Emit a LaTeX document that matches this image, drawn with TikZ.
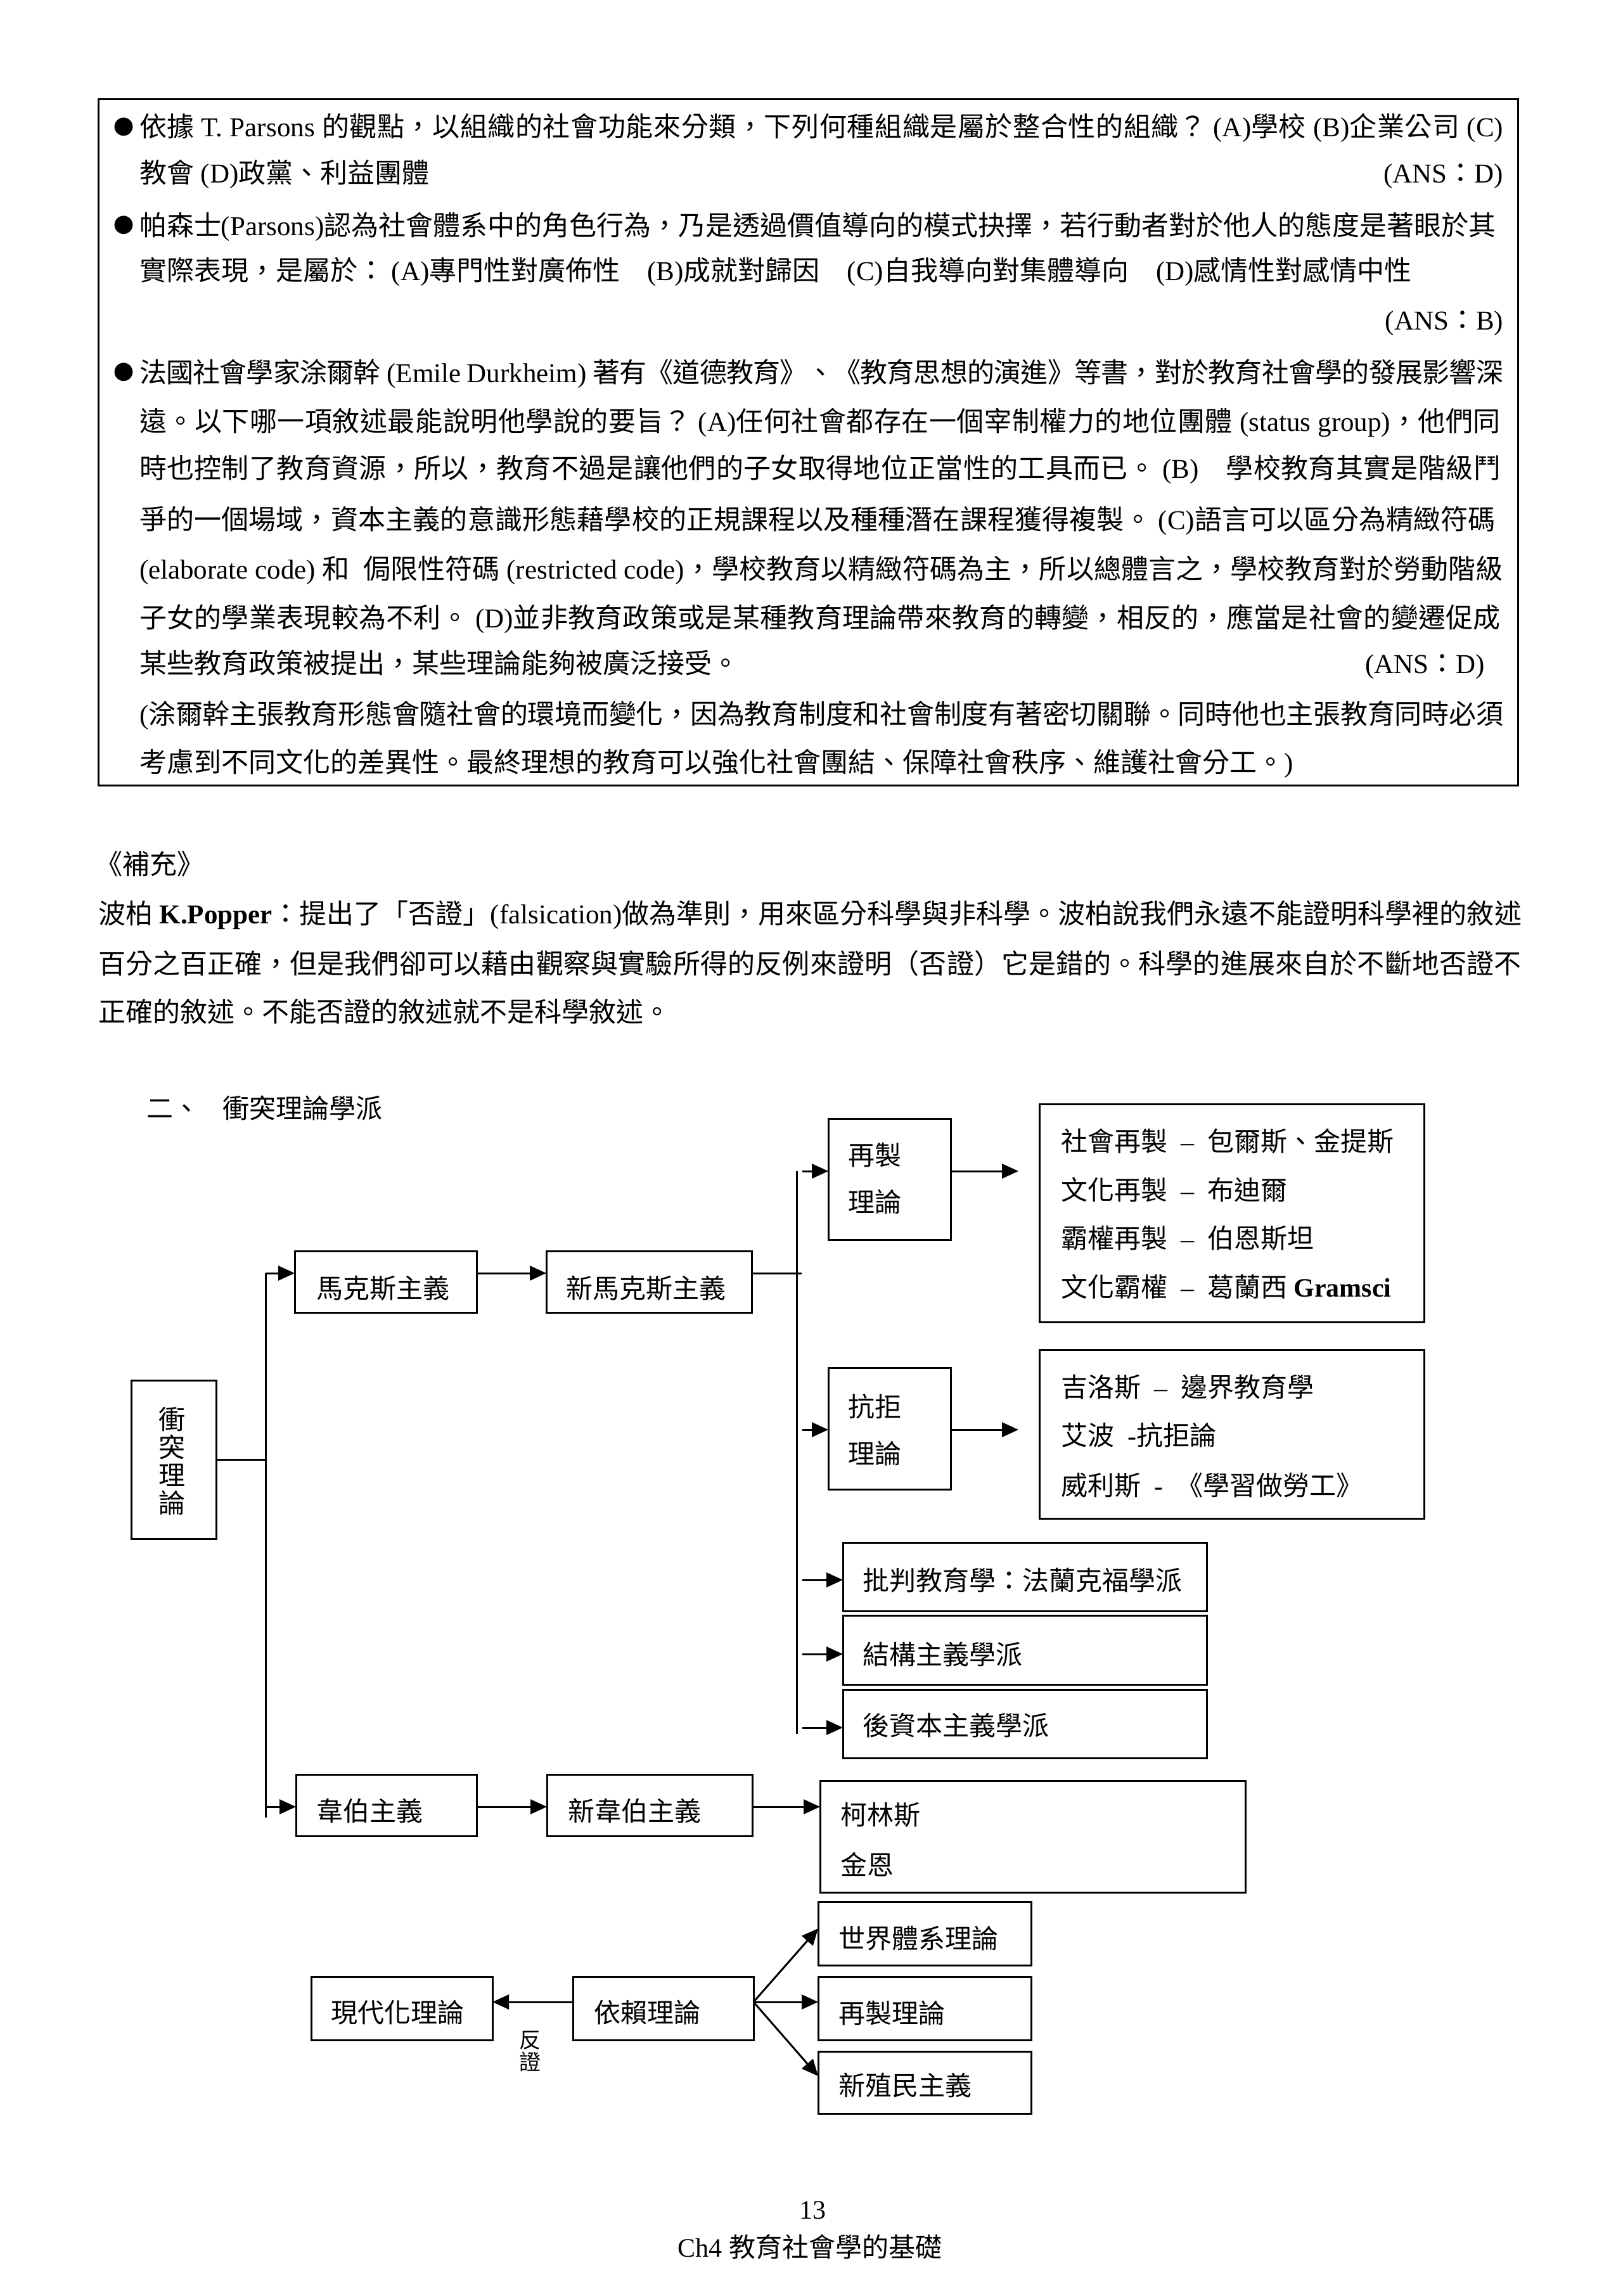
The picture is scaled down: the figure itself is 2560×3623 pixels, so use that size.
\documentclass[tikz,border=0pt]{standalone}
\usepackage{fontspec}
\setmainfont{Liberation Serif}
\newfontfamily\cjkf{Noto Sans CJK TC}
\usetikzlibrary{arrows.meta,fit}
\makeatletter
\newXeTeXintercharclass\CJKcl
\def\setcjkrange#1#2{\count@=#1\relax
  \loop\XeTeXcharclass\count@=\CJKcl\relax
  \ifnum\count@<#2\relax\advance\count@\@ne\repeat}
\setcjkrange{"2E80}{"9FFF}
\setcjkrange{"F900}{"FAFF}
\setcjkrange{"FE30}{"FE4F}
\setcjkrange{"FF00}{"FFEF}
\makeatother
\XeTeXinterchartoks 0 \CJKcl = {\cjkf}
\XeTeXinterchartoks 4095 \CJKcl = {\cjkf}
\XeTeXinterchartoks \CJKcl 0 = {\rmfamily}
\XeTeXinterchartoks \CJKcl 4095 = {\rmfamily}
\XeTeXinterchartoks \CJKcl \CJKcl = {\hskip0pt plus .15em minus .05em\relax}
\XeTeXinterchartokenstate=1
\newcommand\mainfs{\fontsize{43}{52}\selectfont}
\newcommand\dgfs{\fontsize{42}{50}\selectfont}
\newcommand\hsp{\hspace{21pt}}
\newcommand\jline[5]{\node[txt] (#1) at (#2,#3) {\hbox to #4pt{#5}};}
\begin{document}
\begin{tikzpicture}[x=1pt,y=-1pt,
  bx/.style={draw, line width=3pt, inner sep=0pt, outer sep=0pt},
  txt/.style={inner sep=0pt, outer sep=0pt, anchor=base west, font=\mainfs},
  dtxt/.style={inner sep=0pt, outer sep=0pt, anchor=base west, font=\dgfs},
  ln/.style={line width=3pt},
  arr/.style={line width=3pt, -{Triangle[length=26pt,width=23pt]}},
  bul/.style={inner sep=0pt, font={\fontsize{32}{32}\selectfont\cjkf}}]
\fill[white] (0,0) rectangle (2560,3623);
\useasboundingbox (0,0) rectangle (2560,3623);

% ---------- question frame ----------
\node[bx, fit={(155,157) (2395,1239)}] (frame) {};
\node[bul] (b1) at (195,200) {●};
\jline{l1}{220}{216}{2152}{依據 T. Parsons 的觀點，以組織的社會功能來分類，下列何種組織是屬於整合性的組織？ (A)學校 (B)企業公司 (C)}
\jline{l2}{220}{289}{2152}{教會 (D)政黨、利益團體\hfill{}(ANS：D)}
\node[bul] (b2) at (195,355) {●};
\jline{l3}{220}{371}{2140}{帕森士(Parsons)認為社會體系中的角色行為，乃是透過價值導向的模式抉擇，若行動者對於他人的態度是著眼於其}
\node[txt] (l4) at (220,442) {實際表現，是屬於：\ (A)專門性對廣佈性\ \ \ \ (B)成就對歸因\ \ \ \ (C)自我導向對集體導向\ \ \ \ (D)感情性對感情中性};
\node[txt, anchor=base east] (l5) at (2372,520) {(ANS：B)};
\node[bul] (b3) at (195,587) {●};
\jline{l6}{220}{603}{2152}{法國社會學家涂爾幹 (Emile Durkheim) 著有《道德教育》、《教育思想的演進》等書，對於教育社會學的發展影響深}
\jline{l7}{220}{680}{2148}{遠。以下哪一項敘述最能說明他學說的要旨？ (A)任何社會都存在一個宰制權力的地位團體 (status group)，他們同}
\jline{l8}{220}{754}{2148}{時也控制了教育資源，所以，教育不過是讓他們的子女取得地位正當性的工具而已。 (B)　學校教育其實是階級鬥}
\jline{l9}{220}{835}{2140}{爭的一個場域，資本主義的意識形態藉學校的正規課程以及種種潛在課程獲得複製。 (C)語言可以區分為精緻符碼}
\jline{l10}{220}{913}{2152}{(elaborate code) 和\ \ 侷限性符碼 (restricted code)，學校教育以精緻符碼為主，所以總體言之，學校教育對於勞動階級}
\jline{l11}{220}{990}{2148}{子女的學業表現較為不利。 (D)並非教育政策或是某種教育理論帶來教育的轉變，相反的，應當是社會的變遷促成}
\jline{l12}{220}{1062}{2123}{某些教育政策被提出，某些理論能夠被廣泛接受。\hfill{}(ANS：D)}
\jline{l13}{220}{1142}{2152}{(涂爾幹主張教育形態會隨社會的環境而變化，因為教育制度和社會制度有著密切關聯。同時他也主張教育同時必須}
\node[txt] (l14) at (220,1218) {考慮到不同文化的差異性。最終理想的教育可以強化社會團結、保障社會秩序、維護社會分工。)};

% ---------- supplement ----------
\node[txt] (sup) at (150,1379) {《補充》};
\jline{p1}{155}{1457}{2246}{波柏 \textbf{K.Popper}：提出了「否證」(falsication)做為準則，用來區分科學與非科學。波柏說我們永遠不能證明科學裡的敘述}
\jline{p2}{155}{1536}{2246}{百分之百正確，但是我們卻可以藉由觀察與實驗所得的反例來證明（否證）它是錯的。科學的進展來自於不斷地否證不}
\node[txt] (p3) at (155,1612) {正確的敘述。不能否證的敘述就不是科學敘述。};

% ---------- section title ----------
\node[dtxt] (title) at (231,1764) {二、\hspace{37pt}衝突理論學派};

% ---------- diagram boxes ----------
\node[bx, fit={(207,2178) (341,2428)}] (A) {};
\node[bx, fit={(465,1974) (752,2071)}] (B) {};
\node[bx, fit={(862,1974) (1186,2071)}] (C) {};
\node[bx, fit={(1307,1765) (1500,1956)}] (D) {};
\node[bx, fit={(1640,1742) (2247,2086)}] (E1) {};
\node[bx, fit={(1307,2158) (1500,2350)}] (F) {};
\node[bx, fit={(1640,2130) (2247,2396)}] (E2) {};
\node[bx, fit={(1330,2434) (1904,2542)}] (G) {};
\node[bx, fit={(1330,2549) (1904,2658)}] (H) {};
\node[bx, fit={(1330,2666) (1904,2774)}] (I) {};
\node[bx, fit={(467,2800) (752,2897)}] (J) {};
\node[bx, fit={(863,2800) (1187,2897)}] (K) {};
\node[bx, fit={(1294,2810) (1965,2986)}] (L) {};
\node[bx, fit={(491,3119) (777,3219)}] (M) {};
\node[bx, fit={(904,3119) (1189,3219)}] (N) {};
\node[bx, fit={(1291,3001) (1627,3101)}] (O) {};
\node[bx, fit={(1291,3119) (1627,3219)}] (P) {};
\node[bx, fit={(1291,3237) (1627,3335)}] (Q) {};

% ---------- box texts ----------
\node[font={\fontsize{42}{44}\selectfont}, align=center, inner sep=0pt] (At) at (271,2306) {衝\\突\\理\\論};
\node[dtxt] (Bt) at (499,2048) {馬克斯主義};
\node[dtxt] (Ct) at (893,2048) {新馬克斯主義};
\node[dtxt] (Dt1) at (1338,1838) {再製};
\node[dtxt] (Dt2) at (1338,1912) {理論};
\node[dtxt] (Ft1) at (1338,2235) {抗拒};
\node[dtxt] (Ft2) at (1338,2309) {理論};
\node[dtxt] (E1a) at (1674,1816) {社會再製\hsp{}–\hsp{}包爾斯、金提斯};
\node[dtxt] (E1b) at (1674,1893) {文化再製\hsp{}–\hsp{}布迪爾};
\node[dtxt] (E1c) at (1674,1969) {霸權再製\hsp{}–\hsp{}伯恩斯坦};
\node[dtxt] (E1d) at (1674,2046) {文化霸權\hsp{}–\hsp{}葛蘭西 \textbf{Gramsci}};
\node[dtxt] (E2a) at (1674,2204) {吉洛斯\hsp{}–\hsp{}邊界教育學};
\node[dtxt] (E2b) at (1674,2280) {艾波\hsp{}-抗拒論};
\node[dtxt] (E2c) at (1674,2359) {威利斯\hsp{}-\hsp{}《學習做勞工》};
\node[dtxt] (Gt) at (1361,2509) {批判教育學：法蘭克福學派};
\node[dtxt] (Ht) at (1361,2626) {結構主義學派};
\node[dtxt] (It) at (1361,2738) {後資本主義學派};
\node[dtxt] (Jt) at (499,2873) {韋伯主義};
\node[dtxt] (Kt) at (896,2873) {新韋伯主義};
\node[dtxt] (Lt1) at (1326,2879) {柯林斯};
\node[dtxt] (Lt2) at (1326,2958) {金恩};
\node[dtxt] (Mt) at (522,3191) {現代化理論};
\node[dtxt] (Nt) at (937,3191) {依賴理論};
\node[dtxt] (Ot) at (1323,3074) {世界體系理論};
\node[dtxt] (Pt) at (1323,3192) {再製理論};
\node[dtxt] (Qt) at (1323,3306) {新殖民主義};
\node[font={\fontsize{34}{35}\selectfont}, align=center, inner sep=0pt] (fz) at (836,3237) {反\\證};

% ---------- connectors ----------
\coordinate (T1a) at (419,2009);
\coordinate (T1b) at (419,2868);
\coordinate (T1m) at (419,2303);
\coordinate (T1w) at (419,2851);
\draw[ln] (A.east) -- (T1m);
\draw[ln] (T1a) -- (T1b);
\draw[arr] (T1a) -- (T1a -| B.west);
\draw[arr] (B.east |- T1a) -- (C.west |- T1a);
\draw[arr] (T1w) -- (T1w -| J.west);
\draw[arr] (J.east |- T1w) -- (K.west |- T1w);
\draw[arr] (K.east |- T1w) -- (L.west |- T1w);

\coordinate (T2a) at (1257,1848);
\coordinate (T2b) at (1257,2736);
\coordinate (T2c) at (1265,2009);
\draw[ln] (C.east |- T2c) -- (T2c);
\draw[ln] (T2a) -- (T2b);
\coordinate (sD) at (1266,1848);
\coordinate (sF) at (1266,2256);
\coordinate (sG) at (1266,2493);
\coordinate (sH) at (1266,2610);
\coordinate (sI) at (1266,2726);
\draw[arr] (sD) -- (sD -| D.west);
\draw[arr] (sF) -- (sF -| F.west);
\draw[arr] (sG) -- (sG -| G.west);
\draw[arr] (sH) -- (sH -| H.west);
\draw[arr] (sI) -- (sI -| I.west);
\draw[arr, shorten >=33pt] (D.east |- sD) -- (E1.west |- sD);
\draw[arr, shorten >=33pt] (F.east |- sF) -- (E2.west |- sF);

\coordinate (ny) at (0,3159);
\coordinate (oy) at (0,3043);
\coordinate (qy) at (0,3276);
\coordinate (fan) at (N.east |- ny);
\draw[arr] (N.west |- ny) -- (M.east |- ny);
\draw[arr] (fan) -- (O.west |- oy);
\draw[arr] (fan) -- (P.west |- ny);
\draw[arr] (fan) -- (Q.west |- qy);

% ---------- footer ----------
\node[font=\dgfs, inner sep=0pt] (pg) at (1282,3488) {13};
\node[font=\dgfs, inner sep=0pt, anchor=base] (ch) at (1278,3561) {Ch4 教育社會學的基礎};
\end{tikzpicture}
\end{document}
